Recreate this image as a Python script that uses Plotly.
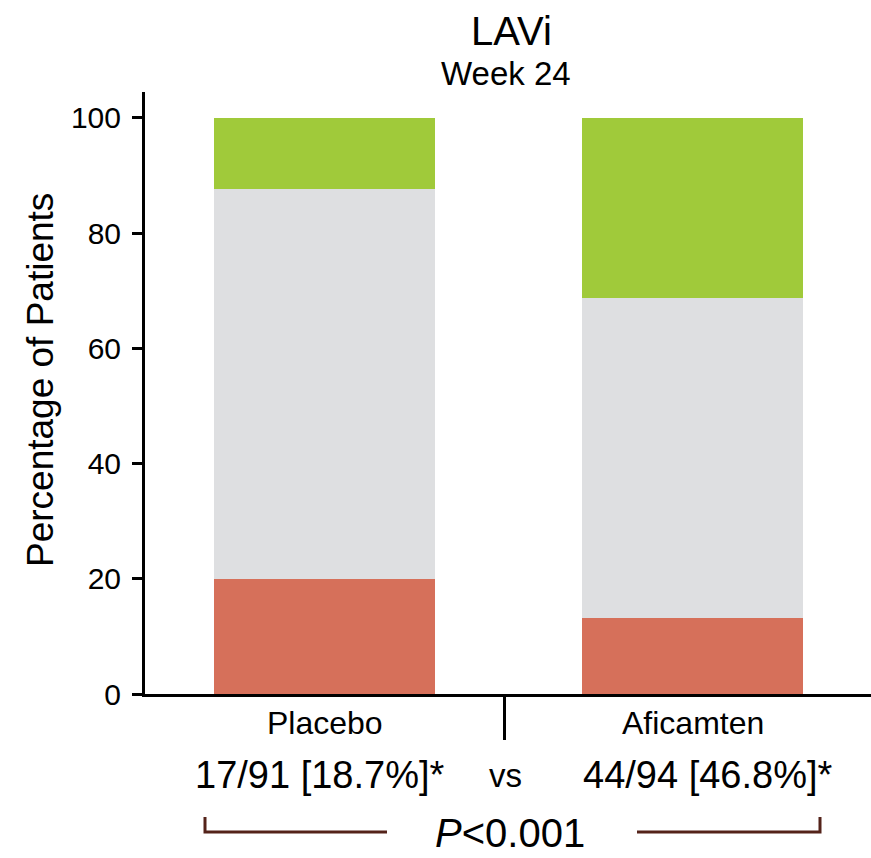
import plotly.graph_objects as go

# Percentage of patients per LAVi change category at week 24
groups = ["Placebo", "Aficamten"]
worsened = [20.0, 13.2]
no_change = [67.7, 55.6]
improved = [12.3, 31.2]

responders = ["17/91 [18.7%]*", "44/94 [46.8%]*"]
p_value_text = "<i>P</i>&lt;0.001"

y_ticks = [0, 20, 40, 60, 80, 100]

FONT = "Arial, 'Liberation Sans', sans-serif"
W, H = 871, 858
L, R, T, B = 145, 0, 92, 164

RED = "#D6705A"
GRAY = "#DEDFE1"
GREEN = "#A0CA3A"
BRACKET = "#54231A"


def px(xp):
    return (xp - L) / (W - L - R)


def py(yp):
    return (H - B - yp) / (H - T - B)


x_pos = list(range(len(groups)))

fig = go.Figure()
for vals, color in [(worsened, RED), (no_change, GRAY), (improved, GREEN)]:
    fig.add_trace(go.Bar(x=x_pos, y=vals, width=0.6, marker=dict(color=color, line=dict(width=0)),
                         showlegend=False, hoverinfo="skip"))

fig.update_layout(
    barmode="stack",
    width=W, height=H,
    margin=dict(l=L, r=R, t=T, b=B, pad=0),
    plot_bgcolor="white", paper_bgcolor="white",
    font=dict(family=FONT, color="black"),
    xaxis=dict(range=[-0.488, 1.485], showgrid=False, zeroline=False,
               showline=True, linecolor="black", linewidth=3,
               tickvals=[0.488], ticktext=[""], ticks="outside", ticklen=43,
               tickwidth=3, tickcolor="black", showticklabels=False),
    yaxis=dict(range=[0, 104.5], showgrid=False, zeroline=False,
               showline=True, linecolor="black", linewidth=3,
               tickvals=y_ticks, ticks="outside", ticklen=10, tickwidth=3,
               tickcolor="black", tickfont=dict(size=30, color="black"),
               ticklabelstandoff=5),
)

annotations = [
    dict(text="Percentage of Patients", x=px(40), y=py(380), textangle=-90, font=dict(size=37)),
    dict(text="LAVi", x=px(512), y=py(31), font=dict(size=40)),
    dict(text="Week 24", x=px(506), y=py(74), font=dict(size=33)),
    dict(text=groups[0], x=px(324.5), y=py(723), font=dict(size=32)),
    dict(text=groups[1], x=px(693), y=py(723), font=dict(size=32)),
    dict(text=responders[0], x=px(320), y=py(775), font=dict(size=38)),
    dict(text="vs", x=px(505), y=py(775), font=dict(size=33)),
    dict(text=responders[1], x=px(708), y=py(775), font=dict(size=38)),
    dict(text=p_value_text, x=px(510), y=py(833), font=dict(size=40)),
]
for a in annotations:
    a.update(xref="paper", yref="paper", showarrow=False, xanchor="center", yanchor="middle")
    a["font"]["color"] = "black"
    a["font"]["family"] = FONT
fig.update_layout(annotations=annotations)

# Brackets joining the two response rates to the p-value
bracket_paths = [
    [(205, 817), (205, 832), (387, 832)],
    [(637, 832), (820, 832), (820, 817)],
]
for pts in bracket_paths:
    path = "M " + " L ".join(f"{px(x)},{py(y)}" for x, y in pts)
    fig.add_shape(type="path", path=path, xref="paper", yref="paper",
                  line=dict(color=BRACKET, width=3))

fig.write_html("out.html")
